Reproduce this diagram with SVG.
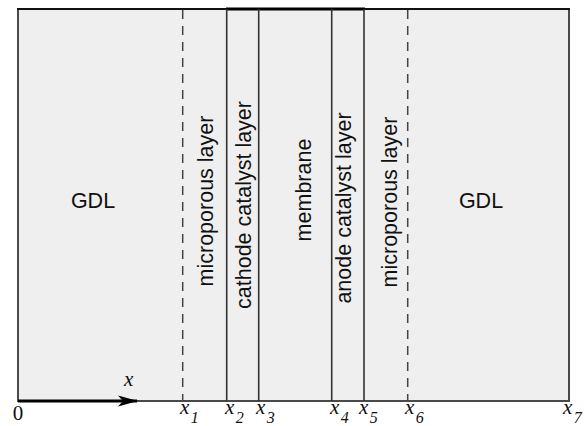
<svg xmlns="http://www.w3.org/2000/svg" width="584" height="426" viewBox="0 0 584 426">
<defs>
<style>
.lbl{font-family:"Liberation Sans",Arial,Helvetica,sans-serif;font-size:21.5px;fill:#111;text-anchor:middle}
.solid{stroke:#333;stroke-width:1.6;fill:none}
.dash{stroke:#444;stroke-width:1.5;stroke-dasharray:9 7;fill:none}
.ax{font-family:"Liberation Serif","Times New Roman",serif;font-style:italic;font-size:21px;fill:#111}
.sub{font-size:16px}
.zero{font-family:"Liberation Serif","Times New Roman",serif;font-size:21px;fill:#111;text-anchor:middle}
</style>
<marker id="arr" viewBox="0 0 20 12" refX="19" refY="6" markerWidth="20" markerHeight="12" markerUnits="userSpaceOnUse" orient="auto">
<path d="M0,0.5 L20,6 L0,11.5 L5,6 Z" fill="#000"/>
</marker>
</defs>
<rect x="0" y="0" width="584" height="426" fill="#fff"/>
<g id="frame">
<rect x="18" y="9" width="551" height="392" fill="#efefef" stroke="#4a4a4a" stroke-width="2"/>
<line x1="17" y1="9" x2="570" y2="9" stroke="#111" stroke-width="2"/>
<line x1="226" y1="9" x2="365" y2="9" stroke="#000" stroke-width="3"/>
</g>
<g id="gdl-left"><text class="lbl" x="93" y="208">GDL</text></g>
<g id="mpl-left">
<line class="dash" x1="182.7" y1="10" x2="182.7" y2="401"/>
<text class="lbl" transform="translate(212.5,201) rotate(-90)" x="0" y="0">microporous layer</text>
</g>
<g id="ccl">
<line class="solid" x1="226.7" y1="9" x2="226.7" y2="401"/>
<line class="solid" x1="258.7" y1="9" x2="258.7" y2="401"/>
<text class="lbl" transform="translate(251,205) rotate(-90)" x="0" y="0">cathode catalyst layer</text>
</g>
<g id="membrane"><text class="lbl" transform="translate(311,190) rotate(-90)" x="0" y="0">membrane</text></g>
<g id="acl">
<line class="solid" x1="331.7" y1="9" x2="331.7" y2="401"/>
<line class="solid" x1="364" y1="9" x2="364" y2="401"/>
<text class="lbl" transform="translate(351,208) rotate(-90)" x="0" y="0">anode catalyst layer</text>
</g>
<g id="mpl-right">
<line class="dash" x1="407.7" y1="10" x2="407.7" y2="401"/>
<text class="lbl" transform="translate(397,202) rotate(-90)" x="0" y="0">microporous layer</text>
</g>
<g id="gdl-right"><text class="lbl" x="481" y="208">GDL</text></g>
<g id="connectors">
<line x1="18" y1="401" x2="137" y2="401" stroke="#000" stroke-width="3" marker-end="url(#arr)"/>
</g>
<g id="axis-labels">
<text class="ax" x="124" y="386">x</text>
<text class="zero" x="18" y="420">0</text>
<text class="ax" x="180" y="414">x<tspan class="sub" dx="1.5" dy="9">1</tspan></text>
<text class="ax" x="225" y="414">x<tspan class="sub" dx="1.5" dy="9">2</tspan></text>
<text class="ax" x="256" y="414">x<tspan class="sub" dx="1.5" dy="9">3</tspan></text>
<text class="ax" x="330" y="414">x<tspan class="sub" dx="1.5" dy="9">4</tspan></text>
<text class="ax" x="359" y="414">x<tspan class="sub" dx="1.5" dy="9">5</tspan></text>
<text class="ax" x="405" y="414">x<tspan class="sub" dx="1.5" dy="9">6</tspan></text>
<text class="ax" x="563" y="414">x<tspan class="sub" dx="1.5" dy="9">7</tspan></text>
</g>
</svg>
